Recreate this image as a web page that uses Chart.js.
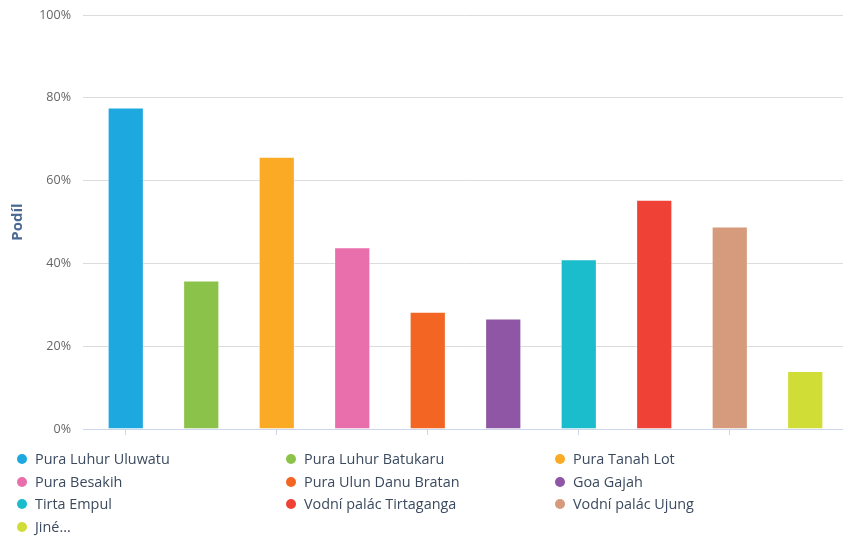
<!DOCTYPE html>
<html>
<head>
<meta charset="utf-8">
<script src="https://cdn.jsdelivr.net/npm/chart.js@4/dist/chart.umd.min.js"></script>
<style>
  html, body { margin: 0; padding: 0; background: #fff; }
  #wrap { position: relative; width: 843px; height: 541px; overflow: hidden; }
  #c { position: absolute; left: 0; top: 0; }
  #legend { position: absolute; left: 17px; top: 448px; display: grid;
    grid-template-columns: 269px 269px 269px; font-family: "Open Sans", sans-serif;
    font-size: 14.4px; color: #3b4a5e; }
  .item { height: 22.6px; line-height: 22px; display: flex; align-items: center; white-space: nowrap; }
  .dot { width: 10px; height: 10px; border-radius: 50%; margin-right: 8px; flex: none; }
</style>
</head>
<body>
<div id="wrap">
  <canvas id="c" width="843" height="541"></canvas>
  <div id="legend"></div>
</div>
<script>
const categories = ["Pura Luhur Uluwatu", "Pura Luhur Batukaru", "Pura Tanah Lot", "Pura Besakih",
  "Pura Ulun Danu Bratan", "Goa Gajah", "Tirta Empul", "Vodní palác Tirtaganga", "Vodní palác Ujung", "Jiné..."];
const values = [77.7, 35.9, 65.8, 43.9, 28.3, 26.7, 41.0, 55.4, 48.9, 14.0];
const colors = ["#1ea8e0", "#8bc34a", "#fbaa26", "#e86fab", "#f26522", "#8e56a4", "#1bbccc", "#ef4136", "#d69a7c", "#d0dd37"];
const yTicks = [0, 20, 40, 60, 80, 100];
const yTitle = "Podíl";

const leg = document.getElementById('legend');
categories.forEach((c, i) => {
  const d = document.createElement('div'); d.className = 'item';
  const dot = document.createElement('span'); dot.className = 'dot'; dot.style.background = colors[i];
  const t = document.createElement('span'); t.textContent = c;
  d.appendChild(dot); d.appendChild(t); leg.appendChild(d);
});

new Chart(document.getElementById('c'), {
  type: 'bar',
  data: {
    labels: categories,
    datasets: [{
      data: values,
      backgroundColor: colors,
      borderColor: 'rgba(255,255,255,0.45)',
      borderWidth: 1,
      barPercentage: 0.48,
      categoryPercentage: 1.0
    }]
  },
  options: {
    responsive: false,
    animation: false,
    devicePixelRatio: 1,
    layout: { padding: { top: 0, left: 0, right: 0, bottom: 0 } },
    plugins: { legend: { display: false }, tooltip: { enabled: false } },
    scales: {
      x: {
        offset: true,
        ticks: { display: false },
        grid: {
          offset: false,
          drawOnChartArea: false,
          drawTicks: true,
          tickLength: 6,
          color: ctx => (ctx.index % 2 === 0 ? '#ccd6eb' : 'rgba(0,0,0,0)')
        },
        border: { display: true, color: '#ccd6eb', width: 1 },
        afterFit: s => { s.height = 541 - 429; }
      },
      y: {
        min: 0, max: 100,
        afterBuildTicks: s => { s.ticks = yTicks.map(v => ({ value: v })); },
        ticks: {
          callback: v => v + '%',
          color: '#666666',
          padding: 12,
          font: { family: '"Open Sans", sans-serif', size: 12.5, lineHeight: 0.5 }
        },
        grid: {
          color: ctx => (ctx.tick && ctx.tick.value === 0 ? '#ccd6eb' : '#dcdcdc'),
          tickLength: 5,
          drawTicks: true
        },
        border: { display: false },
        title: {
          display: true,
          text: yTitle,
          color: '#4a6a94',
          padding: { top: 9, bottom: 0 },
          font: { family: '"Open Sans", sans-serif', size: 15, weight: 'bold' }
        },
        afterFit: s => { s.width = 88; }
      }
    }
  }
});
</script>
</body>
</html>
